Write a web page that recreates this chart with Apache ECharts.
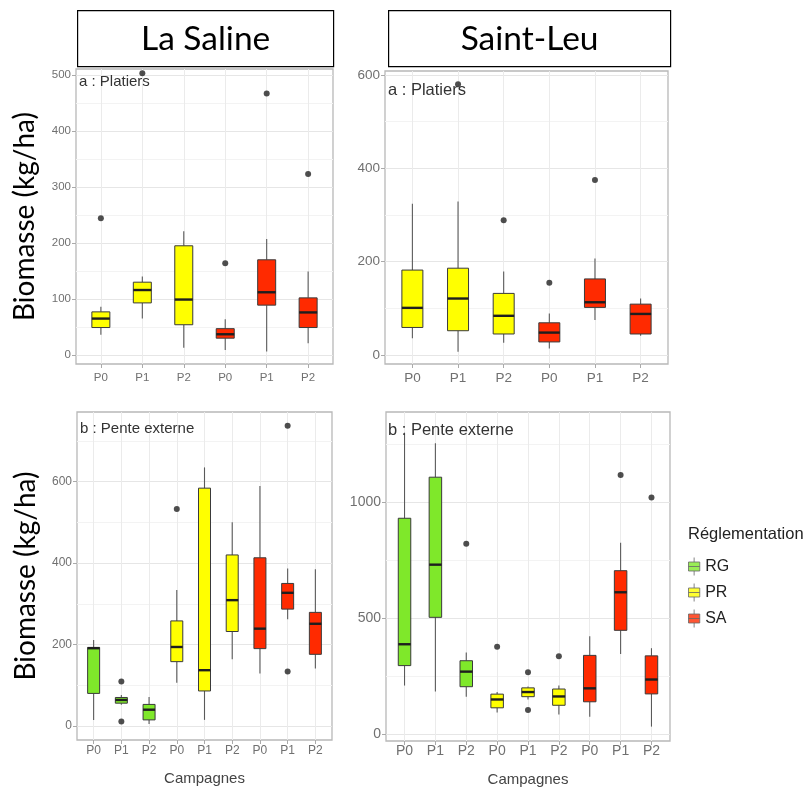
<!DOCTYPE html>
<html>
<head>
<meta charset="utf-8">
<script src="https://cdn.jsdelivr.net/npm/echarts@6/dist/echarts.min.js"></script>
<style>html,body{margin:0;padding:0;background:#fff}#c{width:806px;height:794px}</style>
</head>
<body>
<div id="c"></div>
<script>
// ---------- data ----------
const sites = ['La Saline', 'Saint-Leu'];
const habitats = ['a : Platiers', 'b : Pente externe'];
const regLabels = ['RG', 'PR', 'SA'];
const yTitle = 'Biomasse (kg/ha)';
const xTitle = 'Campagnes';
const legendTitle = 'Réglementation';

const catsTop = ['P0', 'P1', 'P2', 'P0', 'P1', 'P2'];
const groupsTop = ['PR', 'PR', 'PR', 'SA', 'SA', 'SA'];
const catsBottom = ['P0', 'P1', 'P2', 'P0', 'P1', 'P2', 'P0', 'P1', 'P2'];
const groupsBottom = ['RG', 'RG', 'RG', 'PR', 'PR', 'PR', 'SA', 'SA', 'SA'];

// [min, Q1, median, Q3, max]
const salinePlatiers = [
  [36, 49, 65, 77, 86],
  [65, 93, 116, 130, 140],
  [13, 54, 99, 195, 221],
  [9, 30, 37, 47, 64],
  [6, 89, 112, 170, 207],
  [21, 49, 76, 102, 149]
];
const salinePlatiersOut = [[0, 244], [1, 503], [3, 164], [4, 467], [5, 323]];

const leuPlatiers = [
  [36, 59, 101, 182, 324],
  [7, 52, 121, 186, 329],
  [26, 45, 84, 132, 179],
  [14, 28, 48, 69, 89],
  [75, 102, 113, 163, 207],
  [41, 45, 88, 109, 121]
];
const leuPlatiersOut = [[1, 580], [2, 289], [3, 155], [4, 375]];

const salinePente = [
  [15, 80, 191, 193, 211],
  [52, 56, 64, 70, 76],
  [5, 15, 40, 53, 71],
  [106, 158, 194, 258, 334],
  [15, 86, 137, 584, 635],
  [164, 232, 309, 420, 500],
  [129, 190, 239, 413, 589],
  [262, 287, 327, 350, 387],
  [141, 176, 251, 279, 385]
];
const salinePenteOut = [[1, 109], [1, 11], [3, 533], [7, 737], [7, 134]];

const leuPente = [
  [210, 296, 388, 931, 1300],
  [184, 504, 731, 1108, 1254],
  [162, 205, 270, 317, 352],
  [94, 114, 150, 173, 182],
  [150, 162, 182, 200, 206],
  [85, 125, 163, 195, 210],
  [76, 140, 198, 340, 423],
  [346, 448, 612, 705, 825],
  [33, 174, 236, 338, 371]
];
const leuPenteOut = [[2, 821], [3, 377], [4, 267], [4, 105], [5, 336], [7, 1117], [8, 1021]];

// tick labels
const ticksTL = [0, 100, 200, 300, 400, 500];
const minorTL = [50, 150, 250, 350, 450];
const ticksTR = [0, 200, 400, 600];
const minorTR = [100, 300, 500];
const ticksBL = [0, 200, 400, 600];
const minorBL = [100, 300, 500, 700];
const ticksBR = [0, 500, 1000];
const minorBR = [250, 750, 1250];

// ---------- styling / layout ----------
const palette = { RG: '#7FE82A', PR: '#FFFF00', SA: '#FF2A00' };
const panels = [
  { box: salinePlatiers, out: salinePlatiersOut, cats: catsTop, groups: groupsTop, ticks: ticksTL, minor: minorTL,
    grid: { left: 76, top: 69, width: 257, height: 295 }, yMin: -16.1, yMax: 510.7, bw: 18,
    fs: 11.5, xMargin: 8, label: habitats[0], labelFs: 15, labelPos: [79, 83], bottom: false },
  { box: leuPlatiers, out: leuPlatiersOut, cats: catsTop, groups: groupsTop, ticks: ticksTR, minor: minorTR,
    grid: { left: 385, top: 71, width: 283, height: 293 }, yMin: -19.3, yMax: 608.6, bw: 21,
    fs: 13.5, xMargin: 7, label: habitats[0], labelFs: 16.5, labelPos: [388, 92], bottom: false },
  { box: salinePente, out: salinePenteOut, cats: catsBottom, groups: groupsBottom, ticks: ticksBL, minor: minorBL,
    grid: { left: 77, top: 412, width: 255, height: 328 }, yMin: -34.4, yMax: 771, bw: 12,
    fs: 12, xMargin: 5, label: habitats[1], labelFs: 15, labelPos: [80, 430], bottom: true },
  { box: leuPente, out: leuPenteOut, cats: catsBottom, groups: groupsBottom, ticks: ticksBR, minor: minorBR,
    grid: { left: 386, top: 412, width: 284, height: 329 }, yMin: -29, yMax: 1389, bw: 12.5,
    fs: 14, xMargin: 3, label: habitats[1], labelFs: 16.5, labelPos: [388, 432], bottom: true }
];

const labelFont = 'Liberation Sans';
const grids = [], xAxes = [], yAxes = [], series = [], graphics = [];

panels.forEach((p, k) => {
  grids.push(Object.assign({ show: true, backgroundColor: '#fff', borderColor: '#b8b8b8', borderWidth: 1.3, containLabel: false }, p.grid));
  const n = p.cats.length;
  const idx = p.cats.map((c, i) => i);
  xAxes.push({
    gridIndex: k, type: 'value', min: -0.6, max: n - 0.4,
    axisLine: { show: false, onZero: false },
    axisTick: { show: true, length: 4, lineStyle: { color: '#aaa' }, customValues: idx },
    axisLabel: { customValues: idx, formatter: v => p.cats[Math.round(v)], color: '#707070', fontSize: p.fs, fontFamily: labelFont, margin: p.xMargin },
    splitLine: { show: true, lineStyle: { color: '#ebebeb', width: 1 } },
    name: p.bottom ? xTitle : '', nameLocation: 'middle', nameGap: 31,
    nameTextStyle: { fontSize: 15, fontFamily: labelFont, color: '#444' }
  });
  yAxes.push({
    gridIndex: k, type: 'value', min: p.yMin, max: p.yMax,
    axisLine: { show: false, onZero: false },
    axisTick: { show: true, length: 4, lineStyle: { color: '#aaa' }, customValues: p.ticks },
    axisLabel: { customValues: p.ticks, formatter: v => String(v), color: '#707070', fontSize: p.fs, fontFamily: labelFont, margin: 5 },
    splitLine: { show: true, lineStyle: { color: '#e6e6e6', width: 1 } },
    name: (k % 2 === 0) ? yTitle : '', nameLocation: 'middle', nameGap: 37, nameRotate: 90,
    nameTextStyle: { fontSize: 28, fontFamily: 'Lato', color: '#000' }
  });
  // minor grid lines
  yAxes.push({
    gridIndex: k, type: 'value', min: p.yMin, max: p.yMax, position: 'left',
    axisLine: { show: false, onZero: false }, axisLabel: { show: false },
    axisTick: { show: false, customValues: p.minor },
    splitLine: { show: true, lineStyle: { color: '#f3f3f3', width: 1 } }
  });
  const yi = yAxes.length - 2;
  const half = p.bw / 2;
  series.push({
    type: 'custom', xAxisIndex: k, yAxisIndex: yi, silent: true, z: 3,
    data: p.box.map((b, i) => ({ value: [i].concat(b), itemStyle: { color: palette[p.groups[i]] } })),
    encode: { x: 0, y: [1, 2, 3, 4, 5] },
    renderItem: (params, api) => {
      const x = api.value(0);
      const pt = j => api.coord([x, api.value(j)]);
      const mn = pt(1), q1 = pt(2), md = pt(3), q3 = pt(4), mx = pt(5);
      const cx = mn[0];
      return {
        type: 'group',
        children: [
          { type: 'line', shape: { x1: cx, y1: mx[1], x2: cx, y2: q3[1] }, style: { stroke: '#5a5a5a', lineWidth: 1.1 } },
          { type: 'line', shape: { x1: cx, y1: q1[1], x2: cx, y2: mn[1] }, style: { stroke: '#5a5a5a', lineWidth: 1.1 } },
          { type: 'rect', shape: { x: cx - half, y: q3[1], width: p.bw, height: q1[1] - q3[1] }, style: { fill: api.visual('color'), stroke: '#3a3a3a', lineWidth: 1 } },
          { type: 'line', shape: { x1: cx - half, y1: md[1], x2: cx + half, y2: md[1] }, style: { stroke: '#1e1e1e', lineWidth: 2.4 } }
        ]
      };
    }
  });
  series.push({
    type: 'scatter', xAxisIndex: k, yAxisIndex: yi, clip: false, z: 5, silent: true,
    symbolSize: 6, itemStyle: { color: '#222' }, data: p.out
  });
  graphics.push({
    type: 'text', left: p.labelPos[0], top: p.labelPos[1] - p.labelFs * 0.6, z: 10,
    style: { text: p.label, fontSize: p.labelFs, fontFamily: labelFont, fill: '#333' }
  });
});

// dummy series for legend
regLabels.forEach(r => series.push({ type: 'scatter', name: r, xAxisIndex: 0, yAxisIndex: 0, data: [], itemStyle: { color: palette[r] } }));

// site header boxes
const headerBoxes = [[77, 10, 256, 56], [388, 10, 282, 56]];
sites.forEach((s, i) => {
  const b = headerBoxes[i];
  graphics.push({
    type: 'group', left: b[0], top: b[1], z: 20,
    children: [
      { type: 'rect', shape: { x: 0, y: 0, width: b[2], height: b[3] }, style: { fill: '#fff', stroke: '#000', lineWidth: 1.2 } },
      { type: 'text', x: b[2] / 2, y: b[3] / 2 + 1, style: { text: s, fontSize: 33.5, fontFamily: 'Lato', fill: '#000', align: 'center', verticalAlign: 'middle' } }
    ]
  });
});

const boxIcon = 'path://M5,0L5,4M0,4L10,4L10,12L0,12ZM0,8L10,8M5,12L5,16';

const chart = echarts.init(document.getElementById('c'), null, { renderer: 'canvas' });
chart.setOption({
  animation: false,
  backgroundColor: '#fff',
  title: { text: legendTitle, left: 683, top: 521, textStyle: { fontSize: 16.5, fontWeight: 'normal', fontFamily: labelFont, color: '#222' } },
  legend: {
    orient: 'vertical', left: 683, top: 552, itemWidth: 12, itemHeight: 18, itemGap: 7,
    textStyle: { fontSize: 16, fontFamily: labelFont, color: '#222' },
    data: regLabels.map(r => ({ name: r, icon: boxIcon, itemStyle: { color: palette[r], borderColor: '#666', borderWidth: 1 } })),
    selectedMode: false
  },
  grid: grids, xAxis: xAxes, yAxis: yAxes, series: series, graphic: graphics
});
</script>
</body>
</html>
